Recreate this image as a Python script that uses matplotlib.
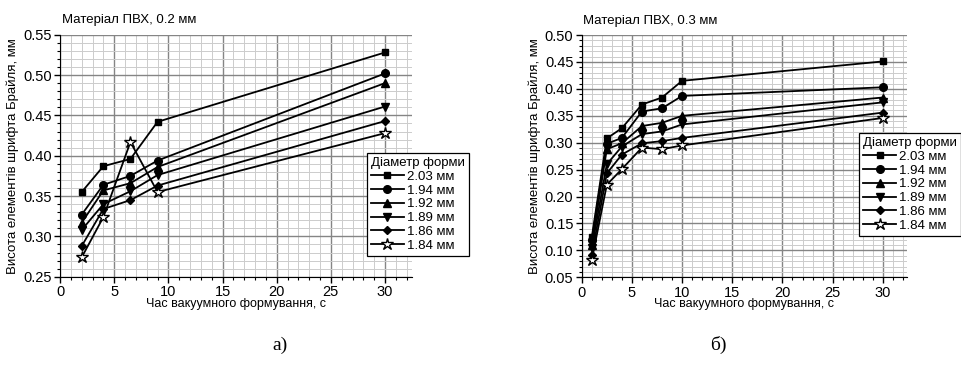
import matplotlib
matplotlib.use("Agg")
import matplotlib.pyplot as plt
from matplotlib.ticker import MultipleLocator

plt.rcParams['font.family'] = ['Liberation Sans', 'DejaVu Sans']

# panel a) - PVC 0.2 mm
t_a = [2, 4, 6.5, 9, 30]
h_a = {
    '2.03 мм': [0.355, 0.387, 0.396, 0.442, 0.528],
    '1.94 мм': [0.327, 0.364, 0.375, 0.394, 0.502],
    '1.92 мм': [0.317, 0.357, 0.366, 0.386, 0.490],
    '1.89 мм': [0.308, 0.340, 0.356, 0.376, 0.461],
    '1.86 мм': [0.288, 0.334, 0.345, 0.363, 0.443],
    '1.84 мм': [0.274, 0.324, 0.417, 0.355, 0.428],
}

# panel б) - PVC 0.3 mm
t_b = [1, 2.5, 4, 6, 8, 10, 30]
h_b = {
    '2.03 мм': [0.124, 0.308, 0.327, 0.371, 0.384, 0.415, 0.451],
    '1.94 мм': [0.119, 0.298, 0.309, 0.358, 0.364, 0.387, 0.403],
    '1.92 мм': [0.110, 0.288, 0.299, 0.331, 0.337, 0.350, 0.384],
    '1.89 мм': [0.104, 0.260, 0.293, 0.316, 0.321, 0.334, 0.375],
    '1.86 мм': [0.091, 0.243, 0.278, 0.299, 0.303, 0.309, 0.356],
    '1.84 мм': [0.082, 0.222, 0.251, 0.291, 0.288, 0.295, 0.346],
}

markers = ['s', 'o', '^', 'v', 'D', '*']
msizes = [5, 5.5, 6, 6, 4.5, 9]

fig = plt.figure(figsize=(9.62, 3.73), dpi=100)
ax1 = fig.add_axes([0.0624, 0.258, 0.366, 0.649])
ax2 = fig.add_axes([0.6047, 0.2565, 0.338, 0.6495])


def draw(ax, t, data, ylim, title, leg_pos, leg_loc, sub):
    for (name, vals), m, ms in zip(data.items(), markers, msizes):
        face = 'white' if m == '*' else 'black'
        ax.plot(t, vals, color='black', lw=1.3, marker=m, ms=ms,
                mfc=face, mec='black', mew=1.0, label=name, zorder=3)
    ax.set_xlim(0, 32.5)
    ax.set_ylim(*ylim)
    ax.xaxis.set_major_locator(MultipleLocator(5))
    ax.xaxis.set_minor_locator(MultipleLocator(1))
    ax.yaxis.set_major_locator(MultipleLocator(0.05))
    ax.yaxis.set_minor_locator(MultipleLocator(0.01))
    ax.yaxis.set_major_formatter(plt.FormatStrFormatter('%.2f'))
    ax.grid(which='major', color='#858585', lw=1.0)
    ax.grid(which='minor', color='#cccccc', lw=0.7)
    ax.set_axisbelow(True)
    for s in ['top', 'right']:
        ax.spines[s].set_visible(False)
    ax.tick_params(which='major', direction='out', length=4, labelsize=10.5, width=1, pad=2)
    ax.tick_params(which='minor', direction='out', length=2, width=0.8)
    ax.set_xlabel('Час вакуумного формування, с', fontsize=9, labelpad=-1)
    ax.set_ylabel('Висота елементів шрифта Брайля, мм', fontsize=9.5, labelpad=3)
    ax.text(0.005, 1.035, title, transform=ax.transAxes, fontsize=9.5, ha='left', va='bottom')
    leg = ax.legend(title='Діаметр форми', loc=leg_loc, bbox_to_anchor=leg_pos,
                    bbox_transform=fig.transFigure, fontsize=9.5, title_fontsize=9.5,
                    frameon=True, fancybox=False, edgecolor='black', framealpha=1,
                    borderpad=0.3, labelspacing=0.12, handlelength=2.5,
                    handletextpad=0.2, borderaxespad=0)
    leg._legend_box.align = 'left'
    leg.get_frame().set_linewidth(0.9)
    fig.text(sub[0], sub[1], sub[2], fontsize=14, family=['Liberation Serif', 'DejaVu Serif'],
             ha='center', va='center')


draw(ax1, t_a, h_a, (0.25, 0.55), 'Матеріал ПВХ, 0.2 мм',
     (367 / 962, 1 - 153 / 373), 'upper left', (280 / 962, 1 - 345 / 373, 'а)'))
draw(ax2, t_b, h_b, (0.05, 0.50), 'Матеріал ПВХ, 0.3 мм',
     (961 / 962, 1 - 133 / 373), 'upper right', (718 / 962, 1 - 345 / 373, 'б)'))
ax2.set_xlim(0, 32.4)

fig.savefig('out.png', dpi=100)
